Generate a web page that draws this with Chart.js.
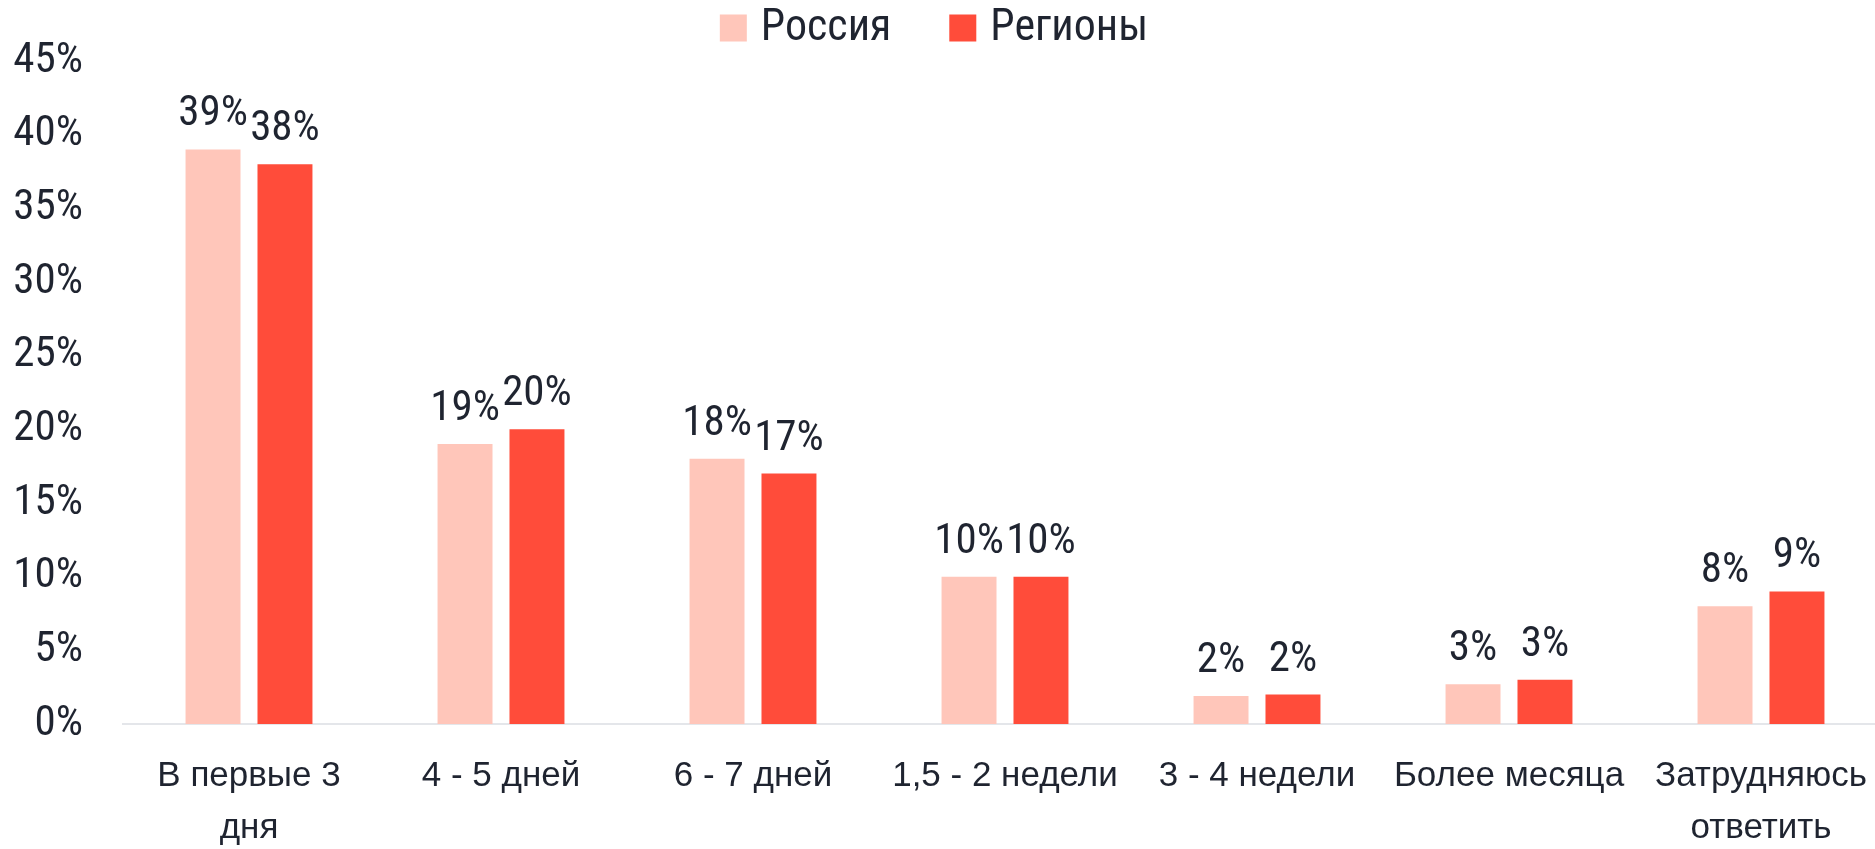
<!DOCTYPE html>
<html>
<head>
<meta charset="utf-8">
<script src="https://cdn.jsdelivr.net/npm/chart.js@4.4.1/dist/chart.umd.min.js"></script>
<style>
html,body{margin:0;padding:0;background:#ffffff;overflow:hidden}
#wrap{width:1875px;height:849px;position:relative}
</style>
</head>
<body>
<div id="wrap"><canvas id="c" width="1875" height="849"></canvas></div>
<script>
const categories = [["В первые 3", "дня"], "4 - 5 дней", "6 - 7 дней", "1,5 - 2 недели", "3 - 4 недели", "Более месяца", ["Затрудняюсь", "ответить"]];
const seriesNames = ["Россия", "Регионы"];
const russia = [39, 19, 18, 10, 1.9, 2.7, 8];
const regions = [38, 20, 17, 10, 2, 3, 9];
const yTickValues = [0, 5, 10, 15, 20, 25, 30, 35, 40, 45];
const seriesColors = ["#FFC6BA", "#FF4C3A"];

const TEXT = "#1F2430";
const NARROW = "'Liberation Sans Narrow', 'Roboto Condensed', Roboto, sans-serif";
const REGULAR = "'Liberation Sans', Arial, sans-serif";
const PLOT_RIGHT = 1887;

const valueLabels = {
  id: "valueLabels",
  afterDatasetsDraw(chart) {
    const ctx = chart.ctx;
    ctx.save();
    ctx.font = "43px " + NARROW;
    ctx.fillStyle = TEXT;
    ctx.textAlign = "center";
    ctx.textBaseline = "alphabetic";
    chart.data.datasets.forEach((ds, i) => {
      const meta = chart.getDatasetMeta(i);
      meta.data.forEach((bar, j) => {
        ctx.fillText(Math.round(ds.data[j]) + "%", bar.x, bar.y - 24);
      });
    });
    ctx.restore();
  }
};

const extendPlot = {
  id: "extendPlot",
  afterLayout(chart) {
    const xs = chart.scales.x;
    xs.right = PLOT_RIGHT;
    xs.width = xs.right - xs.left;
    xs.configure();
    chart.chartArea.right = PLOT_RIGHT;
    chart.chartArea.width = PLOT_RIGHT - chart.chartArea.left;
  }
};

const topLegend = {
  id: "topLegend",
  afterDraw(chart) {
    const ctx = chart.ctx;
    ctx.save();
    ctx.font = "44px " + NARROW;
    const box = 27, gapText = 14, gapItem = 58;
    const items = chart.data.datasets.map(d => ({ text: d.label, color: d.backgroundColor, w: ctx.measureText(d.label).width }));
    let total = 0;
    items.forEach((it, i) => { total += box + gapText + it.w + (i < items.length - 1 ? gapItem : 0); });
    let x = 934 - total / 2;
    const yMid = 28;
    ctx.textBaseline = "middle";
    ctx.textAlign = "left";
    items.forEach(it => {
      ctx.fillStyle = it.color;
      ctx.fillRect(x, yMid - box / 2, box, box);
      x += box + gapText;
      ctx.fillStyle = TEXT;
      ctx.fillText(it.text, x, yMid + 1);
      x += it.w + gapItem;
    });
    ctx.restore();
  }
};

new Chart(document.getElementById("c"), {
  type: "bar",
  data: {
    labels: categories,
    datasets: [
      { label: seriesNames[0], data: russia, backgroundColor: seriesColors[0], categoryPercentage: 0.571, barPercentage: 0.764 },
      { label: seriesNames[1], data: regions, backgroundColor: seriesColors[1], categoryPercentage: 0.571, barPercentage: 0.764 }
    ]
  },
  options: {
    responsive: false,
    animation: false,
    devicePixelRatio: 1,
    layout: { padding: { top: 61, right: 0, left: 0, bottom: 0 } },
    plugins: {
      legend: { display: false },
      tooltip: { enabled: false }
    },
    scales: {
      x: {
        grid: { display: false, drawTicks: false },
        border: { display: true, color: "#E4E6EA", width: 2 },
        ticks: {
          color: TEXT,
          font: { family: REGULAR, size: 35, lineHeight: 1.5 },
          padding: 26,
          maxRotation: 0,
          autoSkip: false
        },
        afterFit(scale) { scale.height = 125; }
      },
      y: {
        min: 0,
        max: 45,
        grid: { display: false, drawTicks: false },
        border: { display: false },
        afterBuildTicks(scale) { scale.ticks = yTickValues.map(v => ({ value: v })); },
        ticks: {
          color: TEXT,
          font: { family: NARROW, size: 43 },
          padding: 40,
          callback: v => v + "%"
        },
        afterFit(scale) { scale.width = 123; scale.paddingTop = 0; scale.paddingBottom = 0; }
      }
    }
  },
  plugins: [extendPlot, valueLabels, topLegend]
});
</script>
</body>
</html>
